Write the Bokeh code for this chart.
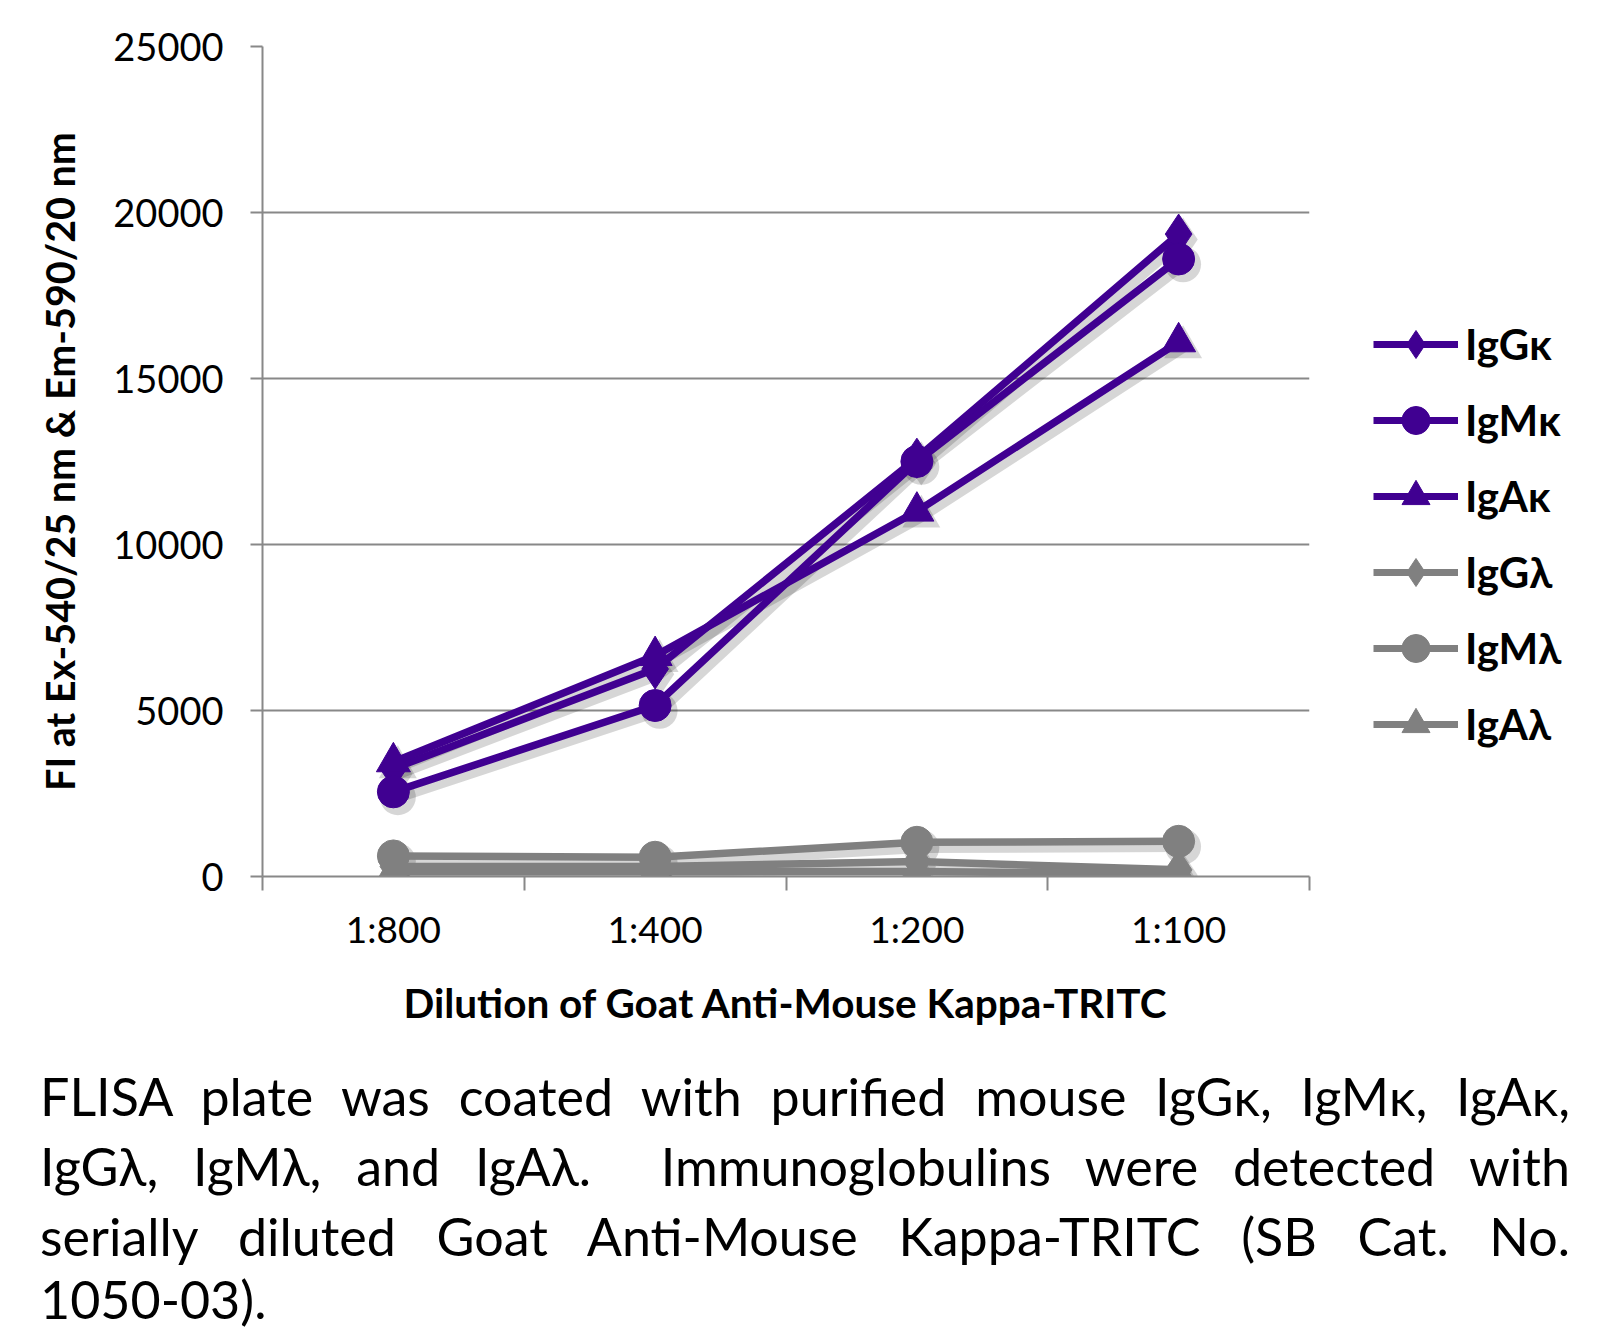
from bokeh.plotting import figure
from bokeh.models import (Legend, LegendItem, FixedTicker, Range1d, Div, ColumnDataSource)
from bokeh.layouts import column, row
from bokeh.transform import dodge
from bokeh.embed import file_html
from bokeh.resources import INLINE

# ---- data ----
dilutions = ["1:800", "1:400", "1:200", "1:100"]
igg_k = [3250, 6250, 12600, 19350]
igm_k = [2550, 5150, 12500, 18600]
iga_k = [3450, 6650, 11000, 16100]
igg_l = [300, 300, 450, 200]
igm_l = [620, 580, 1030, 1060]
iga_l = [150, 150, 150, 80]
series_names = ["IgG\u03ba", "IgM\u03ba", "IgA\u03ba", "IgG\u03bb", "IgM\u03bb", "IgA\u03bb"]
y_ticks = [0, 5000, 10000, 15000, 20000, 25000]
x_title = "Dilution of Goat Anti-Mouse Kappa-TRITC"
y_title = "FI at Ex-540/25 nm & Em-590/20 nm"
caption_lines = [
    "FLISA plate was coated with purified mouse IgG\u03ba, IgM\u03ba, IgA\u03ba,",
    "IgG\u03bb, IgM\u03bb, and IgA\u03bb.&nbsp; Immunoglobulins were detected with",
    "serially diluted Goat Anti-Mouse Kappa-TRITC (SB Cat. No.",
    "1050-03).",
]

PURPLE = "#400091"
GRAY = "#808080"
AX = "#888888"
FONT = "Lato"

xs = [i + 0.5 for i in range(len(dilutions))]

p = figure(width=1317, height=1050, output_backend="svg", toolbar_location=None,
           x_range=Range1d(0, len(dilutions)), y_range=Range1d(0, 25000),
           min_border_left=262, min_border_right=8, min_border_top=46,
           min_border_bottom=174)
p.outline_line_color = None
p.background_fill_color = "white"
p.border_fill_color = "white"

# axes
xa = p.xaxis[0]
xa.ticker = FixedTicker(ticks=xs, minor_ticks=list(range(len(dilutions) + 1)))
xa.major_label_overrides = {x: d for x, d in zip(xs, dilutions)}
xa.major_tick_line_color = None
xa.major_tick_out = 0
xa.major_tick_in = 0
xa.minor_tick_out = 14
xa.minor_tick_in = 0
xa.minor_tick_line_color = AX
xa.minor_tick_line_width = 2
xa.axis_line_color = AX
xa.axis_line_width = 2
xa.major_label_text_font = FONT
xa.major_label_text_font_size = "37px"
xa.major_label_text_color = "black"
xa.major_label_standoff = 15
xa.axis_label = x_title
xa.axis_label_text_font = FONT
xa.axis_label_text_font_style = "bold"
xa.axis_label_text_font_size = "40.5px"
xa.axis_label_text_color = "black"
xa.axis_label_standoff = 24

ya = p.yaxis[0]
ya.ticker = FixedTicker(ticks=y_ticks, minor_ticks=[])
ya.major_tick_out = 12
ya.major_tick_in = 0
ya.major_tick_line_color = AX
ya.major_tick_line_width = 2
ya.axis_line_color = AX
ya.axis_line_width = 2
ya.major_label_text_font = FONT
ya.major_label_text_font_size = "38px"
ya.major_label_text_color = "black"
ya.major_label_standoff = 27
ya.axis_label = y_title
ya.axis_label_text_font = FONT
ya.axis_label_text_font_style = "bold"
ya.axis_label_text_font_size = "39.5px"
ya.axis_label_text_color = "black"
ya.axis_label_standoff = 27

p.xgrid.grid_line_color = None
p.ygrid.ticker = FixedTicker(ticks=y_ticks)
p.ygrid.grid_line_color = AX
p.ygrid.grid_line_width = 2

series = [igg_k, igm_k, iga_k, igg_l, igm_l, iga_l]
colors = [PURPLE, PURPLE, PURPLE, GRAY, GRAY, GRAY]
markers = ["diamond", "circle", "triangle", "diamond", "circle", "triangle"]
msizes = [40, 32, 34, 40, 32, 34]
sources = [ColumnDataSource(dict(x=xs, y=vals)) for vals in series]

# soft shadows
for src, mk, ms in zip(sources, markers, msizes):
    p.line(x=dodge("x", 0.017), y=dodge("y", -160), source=src,
           line_color="black", line_alpha=0.16, line_width=11)
    p.scatter(x=dodge("x", 0.017), y=dodge("y", -160), source=src, marker=mk,
              size=ms + 4, fill_color="black", fill_alpha=0.16, line_color=None)

for src, c, mk, ms in zip(sources, colors, markers, msizes):
    p.line(x="x", y="y", source=src, line_color=c, line_width=7.5)
    p.scatter(x="x", y="y", source=src, marker=mk, size=ms,
              fill_color=c, line_color=c)

# legend panel: a separate figure whose view range shows none of the data,
# so only the legend keys are visible
lf = figure(width=273, height=1050, output_backend="svg", toolbar_location=None,
            x_range=Range1d(-200, -100), y_range=Range1d(-200, -100),
            min_border_left=0, min_border_right=0, min_border_top=0, min_border_bottom=0)
lf.axis.visible = False
lf.grid.visible = False
lf.outline_line_color = None
lf.border_fill_color = "white"
items = []
for src, name, c, mk in zip(sources, series_names, colors, markers):
    r1 = lf.line(x="x", y="y", source=src, line_color=c, line_width=7)
    r2 = lf.scatter(x="x", y="y", source=src, marker=mk, size=30,
                    fill_color=c, line_color=c)
    items.append(LegendItem(label=name, renderers=[r1, r2]))

legend = Legend(items=items, location=(56, 117), orientation="vertical",
                glyph_width=85, glyph_height=70, label_height=70, spacing=6,
                padding=0, margin=0, label_standoff=7,
                label_text_font=FONT, label_text_font_style="bold",
                label_text_font_size="42px", label_text_color="black",
                border_line_color=None, background_fill_alpha=0)
lf.add_layout(legend, "center")

line_style = ("font-family: Lato, sans-serif; font-size: 52px; color: black; "
              "height: 70px; line-height: 70px; white-space: nowrap; ")
html = '<div style="margin-left:35px; width:1530px; padding-top:6px;">'
for i, ln in enumerate(caption_lines):
    if i < len(caption_lines) - 1:
        html += ('<div style="' + line_style +
                 'text-align: justify; text-align-last: justify;">' + ln + '</div>')
    else:
        html += ('<div style="font-family: Lato, sans-serif; font-size: 52px; color: black; '
                 'height: 50px; line-height: 50px; margin-top: 3px;">' + ln + '</div>')
html += '</div>'
cap = Div(text=html, width=1590, height=290)

layout = column(row(p, lf, spacing=0), cap, spacing=0)
open("out.html", "w").write(file_html(layout, INLINE))
